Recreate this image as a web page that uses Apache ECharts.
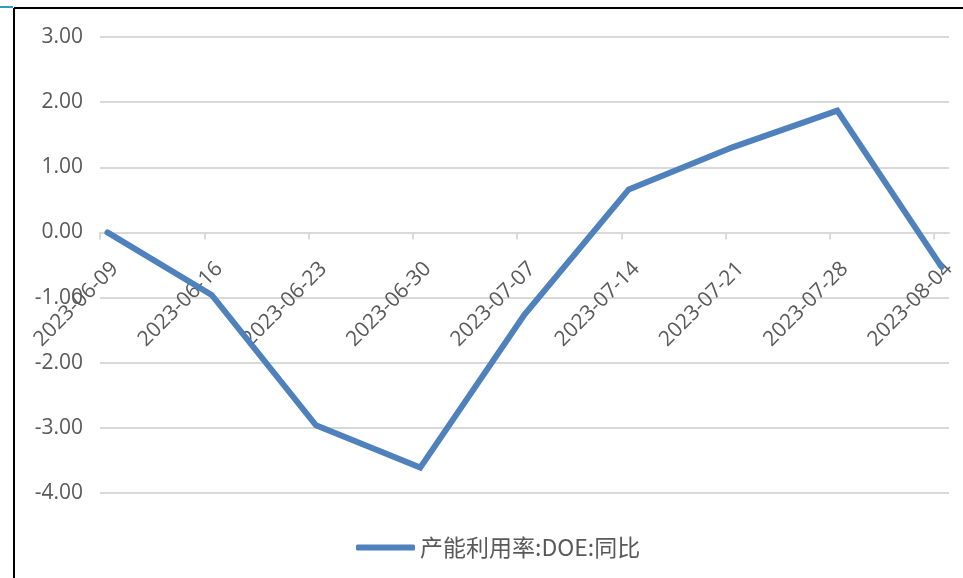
<!DOCTYPE html>
<html>
<head>
<meta charset="utf-8">
<script src="https://cdn.jsdelivr.net/npm/echarts@6/dist/echarts.min.js"></script>
<style>
  html, body { margin: 0; padding: 0; background: #fff; }
  #chart { width: 963px; height: 578px; }
</style>
</head>
<body>
<div id="chart"></div>
<script>
const dates = ["2023-06-09", "2023-06-16", "2023-06-23", "2023-06-30", "2023-07-07",
  "2023-07-14", "2023-07-21", "2023-07-28", "2023-08-04"];
const values = [0.00, -0.96, -2.96, -3.61, -1.26, 0.66, 1.31, 1.87, -0.53];
const seriesName = "产能利用率:DOE:同比";
const yTicks = [-4, -3, -2, -1, 0, 1, 2, 3];

// excel date axis: one slot per day, point in the middle of its slot
const DAY = 86400000;
const t0 = Date.parse(dates[0]);
const dayOf = d => Math.round((Date.parse(d) - t0) / DAY);
const lastDay = dayOf(dates[dates.length - 1]);
const points = dates.map((d, i) => [dayOf(d) + 0.5, values[i]]);
const tickVals = dates.map(d => dayOf(d));
// labels hang from the right edge of each date's slot
const labelVals = dates.map(d => dayOf(d) + 1);
const labelAt = {};
dates.forEach(d => { labelAt[dayOf(d) + 1] = d; });

const chart = echarts.init(document.getElementById("chart"));
const txt = "#595959";
const font = "'Open Sans', 'Noto Sans CJK SC', sans-serif";

const gridTop = 37, gridBottom = 85, plotH = 578 - gridTop - gridBottom;
const yMin = yTicks[0], yMax = yTicks[yTicks.length - 1];
// distance from the plot bottom up to the zero line
const zeroLift = plotH * (0 - yMin) / (yMax - yMin);

chart.setOption({
  animation: false,
  textStyle: { fontFamily: font },
  grid: { left: 100, right: 14, top: gridTop, bottom: gridBottom, containLabel: false, outerBoundsMode: "none" },
  xAxis: [{
    type: "value",
    min: 0,
    max: lastDay + 1,
    interval: 7,
    axisLine: { onZero: true, lineStyle: { color: "#d9d9d9", width: 2 } },
    axisTick: { show: true, length: 7, customValues: tickVals, lineStyle: { color: "#d9d9d9", width: 2 } },
    axisLabel: { show: false },
    splitLine: { show: false }
  }, {
    type: "value",
    min: 0,
    max: lastDay + 1,
    position: "bottom",
    offset: -zeroLift,
    axisLine: { show: false, onZero: false },
    axisTick: { show: false },
    splitLine: { show: false },
    axisLabel: {
      show: true,
      customValues: labelVals,
      rotate: 45,
      margin: 33,
      color: txt,
      fontSize: 21,
      fontFamily: font,
      formatter: v => labelAt[v] || ""
    }
  }],
  yAxis: {
    type: "value",
    min: yMin,
    max: yMax,
    interval: 1,
    axisLine: { show: false },
    axisTick: { show: false },
    axisLabel: {
      color: txt,
      fontSize: 21,
      margin: 17,
      fontFamily: font,
      formatter: v => v.toFixed(2)
    },
    splitLine: { lineStyle: { color: "#d9d9d9", width: 2 } }
  },
  legend: {
    left: 351,
    top: 531,
    icon: "roundRect",
    itemWidth: 59,
    itemHeight: 6,
    itemGap: 7,
    itemStyle: { color: "#4f81bd" },
    textStyle: { color: txt, fontSize: 23, fontFamily: "'Noto Sans CJK SC', sans-serif" },
    data: [seriesName]
  },
  series: [{
    name: seriesName,
    type: "line",
    xAxisIndex: 0,
    data: points,
    showSymbol: false,
    symbol: "none",
    lineStyle: { color: "#4f81bd", width: 6, cap: "round", join: "miter" },
    itemStyle: { color: "#4f81bd" }
  }],
  graphic: [
    { type: "line", shape: { x1: 14, y1: 8, x2: 14, y2: 600 }, style: { stroke: "#000", lineWidth: 2 } },
    { type: "line", shape: { x1: 14, y1: 8, x2: 963, y2: 8 }, style: { stroke: "#000", lineWidth: 2 } },
    { type: "line", shape: { x1: 0, y1: 7, x2: 13, y2: 7 }, style: { stroke: "#2a9fc0", lineWidth: 2 } }
  ]
});
</script>
</body>
</html>
